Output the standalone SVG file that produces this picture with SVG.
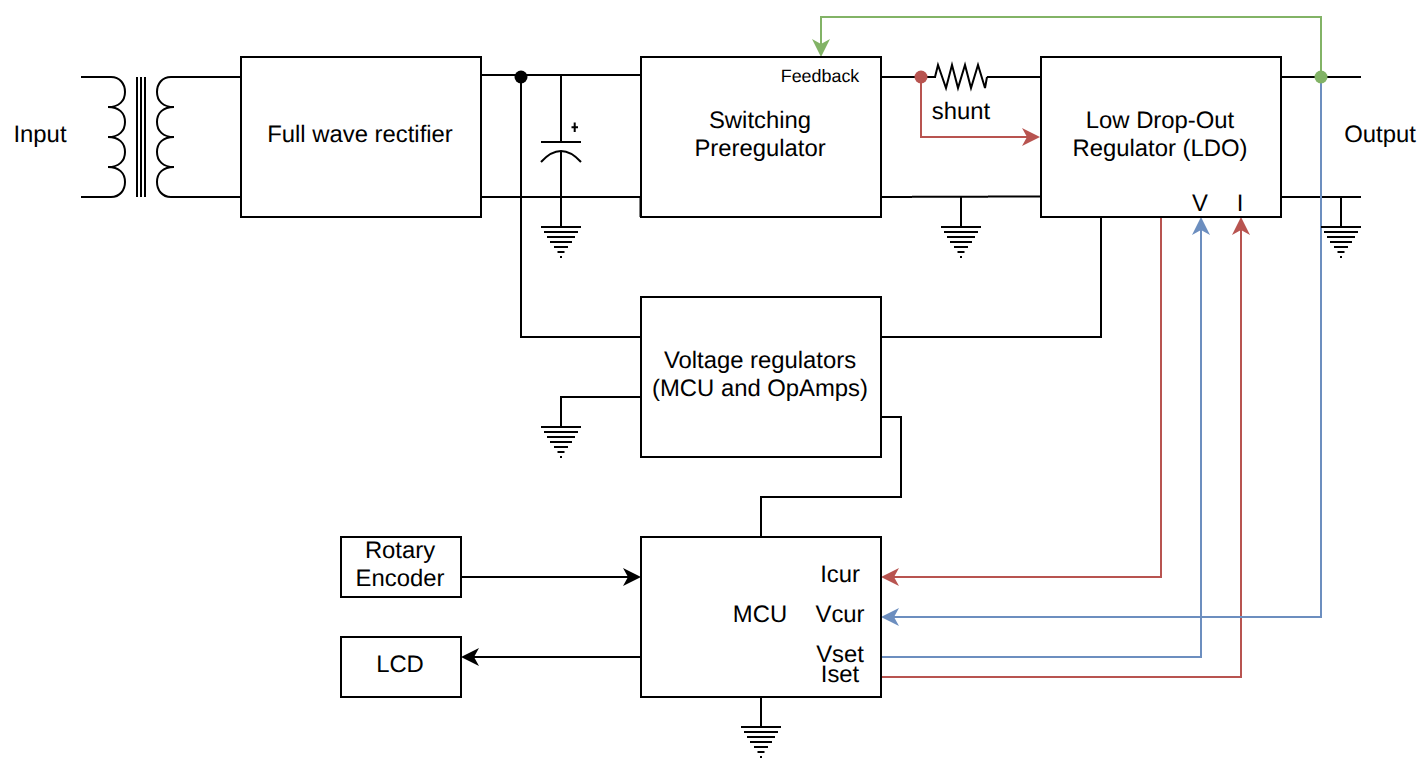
<svg xmlns="http://www.w3.org/2000/svg" width="1422" height="758" viewBox="0 0 1422 758">
<style>
text{font-family:"Liberation Sans",Arial,sans-serif;font-size:23.85px;fill:#000;text-anchor:middle;text-rendering:geometricPrecision}
.s{font-size:17.9px}
.b{fill:#fff;stroke:#000;stroke-width:2}
.w{fill:none;stroke:#000;stroke-width:2}
.r{fill:none;stroke:#b85450;stroke-width:2}
.u{fill:none;stroke:#6c8ebf;stroke-width:2}
.g{fill:none;stroke:#82b366;stroke-width:2}
</style>
<defs>
<marker id="ak" markerUnits="userSpaceOnUse" markerWidth="18" markerHeight="18" viewBox="0 0 18 18" refX="12" refY="9" orient="auto"><polygon points="0,0 18,9 0,18 5,9" fill="#000"/></marker>
<marker id="ar" markerUnits="userSpaceOnUse" markerWidth="18" markerHeight="18" viewBox="0 0 18 18" refX="12" refY="9" orient="auto"><polygon points="0,0 18,9 0,18 5,9" fill="#b85450"/></marker>
<marker id="au" markerUnits="userSpaceOnUse" markerWidth="18" markerHeight="18" viewBox="0 0 18 18" refX="12" refY="9" orient="auto"><polygon points="0,0 18,9 0,18 5,9" fill="#6c8ebf"/></marker>
<marker id="ag" markerUnits="userSpaceOnUse" markerWidth="18" markerHeight="18" viewBox="0 0 18 18" refX="12" refY="9" orient="auto"><polygon points="0,0 18,9 0,18 5,9" fill="#82b366"/></marker>
<g id="gnd" class="w"><path d="M-20 0H20M-17 5H17M-14 10H14M-11 15H11M-7 20H7M-3.500 25H3.500M-1 30H1"/></g>
</defs>
<g id="connectors">
<path class="w" d="M481 75H641M481 197H640.500V217M521 77V337H641M561 75V142M561 151V227"/>
<path class="w" d="M881 77H936M987 77H1041M881 197H912M912 196.700H988M988 196.400H1041M961 197V227"/>
<path class="w" d="M1281 77H1361M1281 197H1361M1341 197V227"/>
<path class="w" d="M881 337H1101V217M641 397H561V427M881 417H901V497H761V537M761 697V727"/>
<path class="w" d="M461 577H635" marker-end="url(#ak)"/>
<path class="w" d="M641 657H467" marker-end="url(#ak)"/>
<path class="r" d="M921 77V137H1034" marker-end="url(#ar)"/>
<path class="r" d="M1161 217V577H887" marker-end="url(#ar)"/>
<path class="r" d="M881 677H1241V223" marker-end="url(#ar)"/>
<path class="u" d="M1321 77V617H887" marker-end="url(#au)"/>
<path class="u" d="M881 657H1201V223" marker-end="url(#au)"/>
<path class="g" d="M1321 77V17H821V51" marker-end="url(#ag)"/>
<circle cx="521" cy="77" r="6.500" fill="#000"/>
<circle cx="921" cy="77" r="6.500" fill="#b85450"/>
<circle cx="1321" cy="77" r="6.500" fill="#82b366"/>
</g>
<g id="transformer" class="w">
<path d="M81 77H111C120 77 125 84 125 92C125 101 119 107 108 107C119 107 125 113 125 122C125 131 119 137 108 137C119 137 125 143 125 152C125 161 119 167 108 167C119 167 125 173 125 182C125 190 120 197 111 197H81"/>
<path d="M137 77V197M141 77V197M145 77V197"/>
<path d="M241 77H171C162 77 157 84 157 92C157 101 163 107 174 107C163 107 157 113 157 122C157 131 163 137 174 137C163 137 157 143 157 152C157 161 163 167 174 167C163 167 157 173 157 182C157 190 162 197 171 197H241"/>
</g>
<g id="capacitor" class="w">
<path d="M541 142H581"/>
<path d="M541 162Q561 140 581 162"/>
<path d="M574.700 122.500V132M571.500 127.200H578"/>
</g>
<g id="shunt-resistor"><path class="w" d="M935 77L938 65L946 88L952 65L958 88L965 65L971 88L978 65L985 88L987 77"/></g>
<use href="#gnd" x="561" y="227"/>
<use href="#gnd" x="961" y="227"/>
<use href="#gnd" x="1341" y="227"/>
<use href="#gnd" x="561" y="427"/>
<use href="#gnd" x="761" y="727"/>
<g id="input"><text x="40" y="142">Input</text></g>
<g id="output"><text x="1380" y="142">Output</text></g>
<g id="shunt-label"><text x="961" y="119">shunt</text></g>
<g id="rectifier"><rect class="b" x="241" y="57" width="240" height="160"/><text x="360" y="142">Full wave rectifier</text></g>
<g id="preregulator"><rect class="b" x="641" y="57" width="240" height="160"/><text class="s" x="820" y="82">Feedback</text><text x="760" y="128">Switching</text><text x="760" y="156">Preregulator</text></g>
<g id="ldo"><rect class="b" x="1041" y="57" width="240" height="160"/><text x="1160" y="128">Low Drop-Out</text><text x="1160" y="156">Regulator (LDO)</text><text x="1200" y="211">V</text><text x="1240" y="211">I</text></g>
<g id="voltage-regulators"><rect class="b" x="641" y="297" width="240" height="160"/><text x="760" y="368">Voltage regulators</text><text x="760" y="396">(MCU and OpAmps)</text></g>
<g id="mcu"><rect class="b" x="641" y="537" width="240" height="160"/><text x="760" y="622">MCU</text><text x="840" y="582">Icur</text><text x="840" y="622">Vcur</text><text x="840" y="662">Vset</text><text x="840" y="682">Iset</text></g>
<g id="rotary-encoder"><rect class="b" x="341" y="537" width="120" height="60"/><text x="400" y="558">Rotary</text><text x="400" y="586">Encoder</text></g>
<g id="lcd"><rect class="b" x="341" y="637" width="120" height="60"/><text x="400" y="672">LCD</text></g>
</svg>
